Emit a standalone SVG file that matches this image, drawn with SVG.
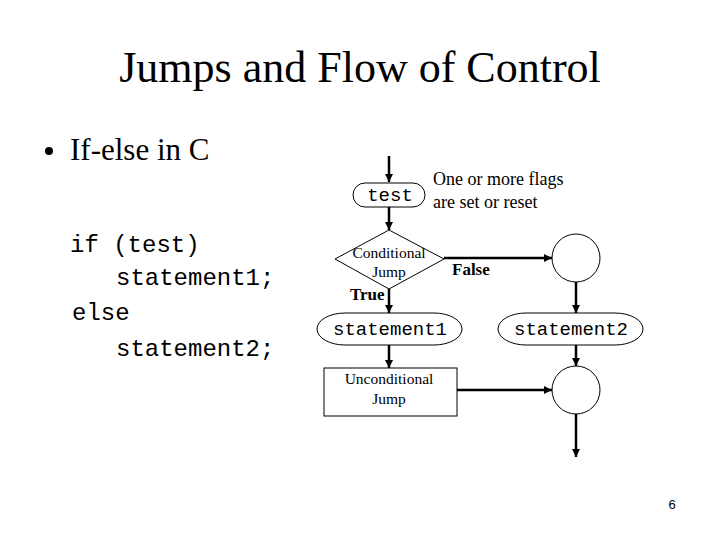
<svg xmlns="http://www.w3.org/2000/svg" width="720" height="540" viewBox="0 0 720 540">
<style>
.ser{font-family:"Liberation Serif","Times New Roman",serif;fill:#000}
.mono{font-family:"Liberation Mono","Courier New",monospace;fill:#000}
.shape{fill:#fff;stroke:#000;stroke-width:1}
.conn{stroke:#000;stroke-width:2.5;fill:none}
</style>
<defs>
<marker id="ah" viewBox="0 0 10 10" refX="10" refY="5" markerWidth="3.2" markerHeight="3.2" orient="auto" markerUnits="strokeWidth">
<path d="M0,0 L10,5 L0,10 z" fill="#000"/>
</marker>
</defs>
<rect width="720" height="540" fill="#fff"/>
<text class="ser" x="360" y="82" font-size="44" text-anchor="middle">Jumps and Flow of Control</text>
<circle cx="49" cy="151" r="4" fill="#000"/>
<text class="ser" x="70" y="160" font-size="31">If-else in C</text>
<g id="code" class="mono" font-size="24">
<text x="70" y="252" xml:space="preserve">if (test)</text>
<text x="116" y="285">statement1;</text>
<text x="72" y="320">else</text>
<text x="116" y="356">statement2;</text>
</g>
<g id="connectors">
<line class="conn" x1="389" y1="156" x2="389" y2="182" marker-end="url(#ah)"/>
<line class="conn" x1="389" y1="207" x2="389" y2="230" marker-end="url(#ah)"/>
<line class="conn" x1="444" y1="258" x2="552" y2="258" marker-end="url(#ah)"/>
<line class="conn" x1="389" y1="289" x2="389" y2="313" marker-end="url(#ah)"/>
<line class="conn" x1="576" y1="282" x2="576" y2="313" marker-end="url(#ah)"/>
<line class="conn" x1="389" y1="345" x2="389" y2="368" marker-end="url(#ah)"/>
<line class="conn" x1="576" y1="345" x2="576" y2="366" marker-end="url(#ah)"/>
<line class="conn" x1="457" y1="390" x2="552" y2="390" marker-end="url(#ah)"/>
<line class="conn" x1="576" y1="414" x2="576" y2="457" marker-end="url(#ah)"/>
</g>
<g id="test">
<rect class="shape" x="353" y="183" width="72" height="24" rx="12" ry="12"/>
<text class="mono" x="390" y="201" font-size="19" text-anchor="middle">test</text>
</g>
<g id="note" class="ser" font-size="18">
<text x="433" y="185">One or more flags</text>
<text x="433" y="208">are set or reset</text>
</g>
<g id="cond">
<polygon class="shape" points="389,230 444,259 389,289 335,259"/>
<text class="ser" x="389" y="258" font-size="15.5" text-anchor="middle">Conditional</text>
<text class="ser" x="389" y="277" font-size="15.5" text-anchor="middle">Jump</text>
</g>
<text class="ser" x="452" y="275" font-size="17" font-weight="bold">False</text>
<text class="ser" x="350" y="300" font-size="17" font-weight="bold">True</text>
<g id="merge1">
<circle class="shape" cx="576" cy="258" r="24"/>
</g>
<g id="stmt1">
<rect class="shape" x="317" y="313" width="145" height="32" rx="28" ry="16"/>
<text class="mono" x="390" y="335" font-size="19" text-anchor="middle">statement1</text>
</g>
<g id="stmt2">
<rect class="shape" x="498" y="313" width="145" height="32" rx="28" ry="16"/>
<text class="mono" x="571" y="335" font-size="19" text-anchor="middle">statement2</text>
</g>
<g id="uncond">
<rect class="shape" x="324" y="368" width="133" height="48"/>
<text class="ser" x="389" y="384" font-size="15.5" text-anchor="middle">Unconditional</text>
<text class="ser" x="389" y="404" font-size="15.5" text-anchor="middle">Jump</text>
</g>
<g id="merge2">
<circle class="shape" cx="576" cy="390" r="24"/>
</g>
<text x="672" y="509" font-family="Liberation Sans, Arial, sans-serif" font-size="13" text-anchor="middle">6</text>
</svg>
